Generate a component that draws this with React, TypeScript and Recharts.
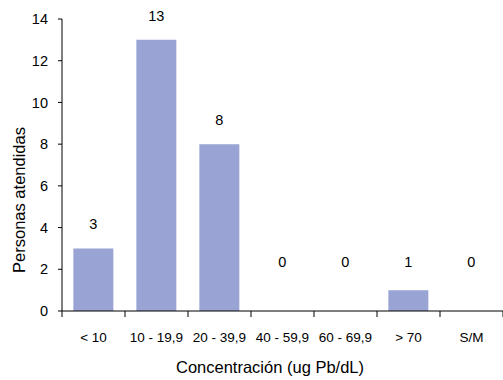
import React from "react";
import { BarChart, Bar, XAxis, YAxis, LabelList } from "recharts";

const categories = ["< 10", "10 - 19,9", "20 - 39,9", "40 - 59,9", "60 - 69,9", "> 70", "S/M"];
const personas = [3, 13, 8, 0, 0, 1, 0];
const yTicks = [0, 2, 4, 6, 8, 10, 12, 14];

const data = categories.map((name, i) => ({ name, value: personas[i] }));

const W = 503;
const H = 380;
const AXIS_W = 62;
const BAND = (W - AXIS_W) / categories.length;
const FONT = "'Liberation Sans', Arial, sans-serif";

function CategoryTick(props: any) {
  const { x, y, payload, index } = props;
  const right = x + BAND / 2;
  const left = x - BAND / 2;
  return (
    <g>
      {index === 0 && <line x1={left} x2={left} y1={y} y2={y + 6} stroke="#000" />}
      <line x1={right} x2={right} y1={y} y2={y + 6} stroke="#000" />
      <text x={x} y={y + 31} textAnchor="middle" fontSize={13.5} fontFamily={FONT} fill="#000">
        {payload.value}
      </text>
    </g>
  );
}

function ValueLabel(props: any) {
  const vb = props.viewBox || {};
  const x = Number.isFinite(props.x) ? props.x : vb.x;
  const y = Number.isFinite(props.y) ? props.y : vb.y;
  const width = Number.isFinite(props.width) ? props.width : vb.width;
  const ty = Math.min(y - 19, 267);
  return (
    <text x={x + width / 2} y={ty} textAnchor="middle" fontSize={14.5} fontFamily={FONT} fill="#000">
      {props.value}
    </text>
  );
}

function YTitle(props: any) {
  const cx = 19;
  const cy = 200;
  return (
    <text
      x={cx}
      y={cy}
      transform={`rotate(-90 ${cx} ${cy})`}
      textAnchor="middle"
      dominantBaseline="central"
      fontSize={16.5}
      fontFamily={FONT}
      fill="#000"
    >
      Personas atendidas
    </text>
  );
}

function XTitle(props: any) {
  return (
    <text x={270} y={373} textAnchor="middle" fontSize={16.5} fontFamily={FONT} fill="#000">
      Concentración (ug Pb/dL)
    </text>
  );
}

export default function App() {
  return (
    <div style={{ position: "absolute", left: 0, top: 0, width: W, height: H, background: "#fff" }}>
      <BarChart width={W} height={H} data={data} margin={{ top: 19, right: 0, bottom: 0, left: 0 }} barCategoryGap="18%">
        <XAxis
          dataKey="name"
          height={69}
          tickLine={false}
          tickSize={0}
          tickMargin={0}
          stroke="#000"
          tick={<CategoryTick />}
          interval={0}
          label={<XTitle />}
        />
        <YAxis
          width={AXIS_W}
          domain={[0, 14]}
          ticks={yTicks}
          interval={0}
          stroke="#000"
          tickSize={4}
          tickMargin={10}
          tick={{ fontSize: 14.5, fontFamily: FONT, fill: "#000" }}
          label={<YTitle />}
        />
        <Bar dataKey="value" fill="#99A4D5" minPointSize={0.01} isAnimationActive={false}>
          <LabelList dataKey="value" content={<ValueLabel />} />
        </Bar>
      </BarChart>
    </div>
  );
}
